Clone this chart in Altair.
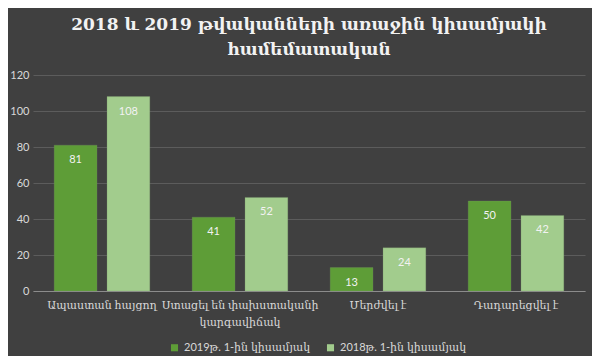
import altair as alt
import pandas as pd

categories = ["Ապաստան հայցող", "Ստացել են փախստականի կարգավիճակ", "Մերժվել է", "Դադարեցվել է"]
series = ["2019թ. 1-ին կիսամյակ", "2018թ. 1-ին կիսամյակ"]
values_2019 = [81, 41, 13, 50]
values_2018 = [108, 52, 24, 42]
y_ticks = [0, 20, 40, 60, 80, 100, 120]
colors = ["#5e9d37", "#a2cc8d"]

rows = []
for c, a, b in zip(categories, values_2019, values_2018):
    rows.append({"cat": c, "series": series[0], "val": a})
    rows.append({"cat": c, "series": series[1], "val": b})
df = pd.DataFrame(rows)

FONT = "Lato, DejaVu Serif"

x = alt.X("cat:N", sort=categories, title=None,
          scale=alt.Scale(paddingInner=0.307, paddingOuter=0.1535),
          axis=alt.Axis(labelAngle=0, labelColor="#d9d9d9", labelFontSize=11, labelFont=FONT,
                        domainColor="#8c8c8c", domainWidth=1, ticks=False, labelPadding=8,
                        labelLimit=200, labelLineHeight=17,
                        labelExpr="datum.value == 'Ստացել են փախստականի կարգավիճակ' ? ['Ստացել են փախստականի', 'կարգավիճակ'] : datum.label"))
xo = alt.XOffset("series:N", sort=series, scale=alt.Scale(paddingInner=0.19, paddingOuter=0))
y = alt.Y("val:Q", title=None,
          scale=alt.Scale(domain=[0, 120]),
          axis=alt.Axis(values=y_ticks, labelColor="#d9d9d9", labelFontSize=11, labelFont=FONT,
                        domain=False, ticks=False, gridColor="#5c5c5c", gridWidth=1, labelPadding=4))

bars = alt.Chart(df).mark_bar(stroke="#7a9a6a", strokeWidth=0.5, strokeOpacity=0.5).encode(
    x=x, xOffset=xo, y=y,
    color=alt.Color("series:N", sort=series, scale=alt.Scale(domain=series, range=colors),
                    legend=alt.Legend(title=None, orient="none", legendX=136, legendY=267,
                                      direction="horizontal", symbolType="square", symbolSize=50,
                                      labelColor="#d9d9d9", labelFont=FONT, labelFontSize=11,
                                      columnPadding=14, symbolStrokeWidth=0))
)

labels = alt.Chart(df).mark_text(baseline="top", dy=9, fontSize=11, font=FONT, color="#f2f2f2").encode(
    x=x, xOffset=xo, y=y, text="val:Q"
)

chart = (bars + labels).properties(
    width=552, height=216,
    background="#404040",
    padding={"left": 25, "top": 67, "right": 7, "bottom": 65},
    autosize=alt.AutoSizeParams(type="none"),
    title=alt.TitleParams(["2018 և 2019 թվականների առաջին կիսամյակի", "համեմատական"],
                          color="#f2f2f2", fontSize=17, font="DejaVu Serif", fontWeight="bold",
                          anchor="middle", offset=10, lineHeight=25, frame="group")
).configure_view(stroke=None)

chart.save("out.html", embed_options={"renderer": "svg", "actions": False})
